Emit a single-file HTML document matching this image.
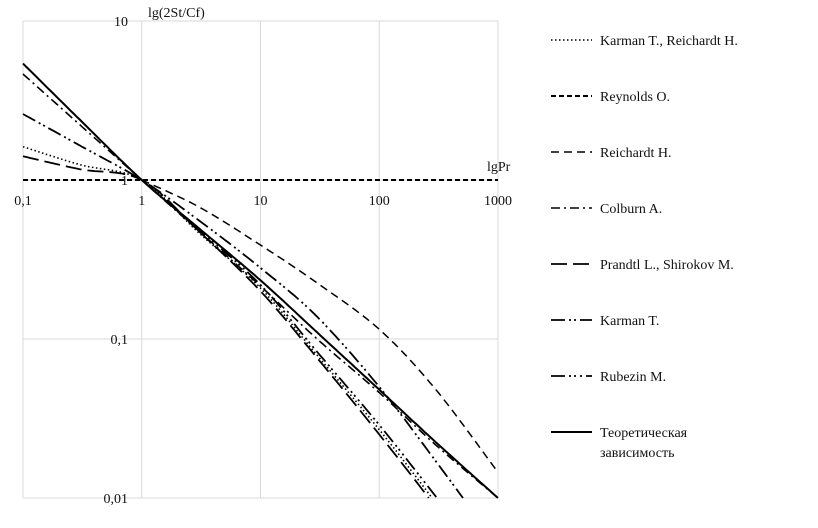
<!DOCTYPE html>
<html><head><meta charset="utf-8"><style>
html,body{margin:0;padding:0;background:#fff;overflow:hidden;width:818px;height:528px;}
svg{display:block;}
svg text{font-family:"Liberation Serif","Noto Serif CJK SC",serif;font-size:14px;fill:#111;}
</style></head><body>
<svg id="c" width="818" height="528" xmlns="http://www.w3.org/2000/svg"></svg>
<script>
const prValues=[0.1,0.3,1,3,10,30,100,300,1000];
const theory=[5.4,2.4,1,0.5,0.234,0.11,0.048,0.0224,0.01];
const reynolds=[1,1,1,1,1,1,1,1,1];
const reichardt=[null,null,1,0.68,0.39,0.225,0.115,0.048,0.0145];
const colburn=[4.64,2.23,1,0.48,0.215,0.1,0.046,0.0215,0.01];
const karmanT=[2.6,1.65,1,0.56,0.28,0.138,0.05,0.017,0.005];
const prandtl=[1.41,1.17,1,0.479,0.2,0.076,0.0251,0.0087,0.0025];
const rubezin=[null,null,1,0.49,0.219,0.083,0.0288,0.0102,0.0032];
const karmanReich=[1.62,1.25,1,0.468,0.209,0.079,0.0269,0.0093,0.0028];
const xTicks=[0.1,1,10,100,1000];
const xTickLabels=["0,1","1","10","100","1000"];
const yTicks=[10,1,0.1,0.01];
const yTickLabels=["10","1","0,1","0,01"];
const seriesNames=["Karman T., Reichardt H.","Reynolds O.","Reichardt H.","Colburn A.","Prandtl L., Shirokov M.","Karman T.","Rubezin M.","Теоретическая зависимость"];

const NS="http://www.w3.org/2000/svg";
const svg=document.getElementById('c');
const X0=23,X1=498,Y0=21,Y1=498;
const xs=v=>X0+(Math.log10(v)+1)/4*(X1-X0);
const ys=v=>Y0+(1-Math.log10(v))/3*(Y1-Y0);
function mk(t,a){const e=document.createElementNS(NS,t);for(const k in a)e.setAttribute(k,a[k]);svg.appendChild(e);return e;}

xTicks.forEach((t,i)=>{
 const g=mk('line',{x1:xs(t),x2:xs(t),y1:Y0,y2:Y1,stroke:'#d9d9d9','stroke-width':1});
 
 const tx=mk('text',{x:xs(t),y:ys(1)+25,'text-anchor':'middle'});tx.textContent=xTickLabels[i];
 
});
yTicks.forEach((t,i)=>{
 const g=mk('line',{x1:X0,x2:X1,y1:ys(t),y2:ys(t),stroke:'#d9d9d9','stroke-width':1});
 
 const tx=mk('text',{x:128,y:ys(t)+5,'text-anchor':'end'});tx.textContent=yTickLabels[i];
 
});
let t1=mk('text',{x:148,y:17});t1.textContent='lg(2St/Cf)';

let t2=mk('text',{x:487,y:171});t2.textContent='lgPr';


const styles=[
 {d:'1.5 2.5',w:1.6},
 {d:'5 3',w:2},
 {d:'8 5',w:1.5},
 {d:'9 4 2 4',w:1.6},
 {d:'16 6',w:1.8},
 {d:'14 4 2 3 2 4',w:1.8},
 {d:'14 4 2 3 2 4 2 4',w:1.8},
 {d:'',w:2}
];
const data=[karmanReich,reynolds,reichardt,colburn,prandtl,karmanT,rubezin,theory];
const keys=['series-karman-reichardt','series-reynolds','series-reichardt','series-colburn','series-prandtl-shirokov','series-karman','series-rubezin','series-theory'];
function sampled(pts){
 const out=[pts[0]];
 for(let i=0;i<pts.length-1;i++){
  const p0=pts[i-1]||pts[i],p1=pts[i],p2=pts[i+1],p3=pts[i+2]||pts[i+1];
  const c1=[p1[0]+(p2[0]-p0[0])/6,p1[1]+(p2[1]-p0[1])/6];
  const c2=[p2[0]-(p3[0]-p1[0])/6,p2[1]-(p3[1]-p1[1])/6];
  for(let k=1;k<=20;k++){const t=k/20,u=1-t;
   out.push([u*u*u*p1[0]+3*u*u*t*c1[0]+3*u*t*t*c2[0]+t*t*t*p2[0],
             u*u*u*p1[1]+3*u*u*t*c1[1]+3*u*t*t*c2[1]+t*t*t*p2[1]]);}
 }
 const res=[out[0]];
 for(let i=1;i<out.length;i++){
  const a=out[i-1],b=out[i];
  if(b[1]>Y1){const f=(Y1-a[1])/(b[1]-a[1]);res.push([a[0]+f*(b[0]-a[0]),Y1]);break;}
  res.push(b);
 }
 return 'M'+res.map(p=>p[0].toFixed(1)+' '+p[1].toFixed(1)).join('L');
}
data.forEach((arr,i)=>{
 const pts=[];
 arr.forEach((v,j)=>{if(v==null)return;pts.push([xs(prValues[j]),ys(v)]);});
 const p=mk('path',{d:sampled(pts),fill:'none',stroke:'#000','stroke-width':styles[i].w,'stroke-dasharray':styles[i].d,'stroke-linejoin':'round'});
 
 
 const ly=40+i*56;
 const l=mk('line',{x1:551,x2:592,y1:ly,y2:ly,stroke:'#000','stroke-width':styles[i].w,'stroke-dasharray':styles[i].d});
 
 
 if(i<7){const tx=mk('text',{x:600,y:ly+5});tx.textContent=seriesNames[i];
  }
 else{const tx=mk('text',{x:600,y:ly+5});tx.textContent='Теоретическая';
  
  const tx2=mk('text',{x:600,y:ly+25});tx2.textContent='зависимость';
  }
});
</script>
</body></html>
